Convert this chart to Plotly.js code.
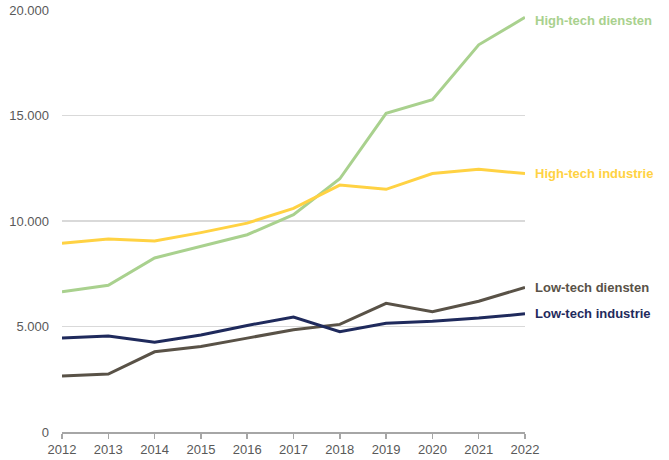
<!DOCTYPE html>
<html>
<head>
<meta charset="utf-8">
<script src="https://cdn.plot.ly/plotly-3.0.1.min.js"></script>
<style>html,body{margin:0;padding:0;background:#fff;}#chart{width:669px;height:460px;}</style>
</head>
<body>
<div id="chart"></div>
<script>
const years = [2012, 2013, 2014, 2015, 2016, 2017, 2018, 2019, 2020, 2021, 2022];
const highTechDiensten = [6650, 6950, 8250, 8800, 9350, 10300, 12000, 15100, 15750, 18350, 19650];
const highTechIndustrie = [8950, 9150, 9050, 9450, 9900, 10600, 11700, 11500, 12250, 12450, 12250];
const lowTechDiensten = [2650, 2750, 3800, 4050, 4450, 4850, 5100, 6100, 5700, 6200, 6850];
const lowTechIndustrie = [4450, 4550, 4250, 4600, 5050, 5450, 4750, 5150, 5250, 5400, 5600];
const seriesNames = ["High-tech diensten", "High-tech industrie", "Low-tech diensten", "Low-tech industrie"];
const seriesValues = [highTechDiensten, highTechIndustrie, lowTechDiensten, lowTechIndustrie];
const colors = ["#a9d18e", "#ffd243", "#595247", "#1f2a5c"];

const traces = seriesValues.map((v, i) => ({
  x: years, y: v, type: "scatter", mode: "lines", name: seriesNames[i],
  line: {color: colors[i], width: 3}, hoverinfo: "skip"
}));

const annotations = seriesValues.map((v, i) => ({
  x: years[years.length - 1], y: v[v.length - 1], xref: "x", yref: "y",
  text: seriesNames[i], showarrow: false, xanchor: "left", yanchor: "middle", xshift: 8,
  font: {family: "Liberation Sans, Arial, sans-serif", size: 13, color: colors[i], weight: "bold"}
}));
annotations[0].yshift = -3;

const layout = {
  width: 669, height: 460,
  margin: {l: 62, r: 144, t: 10, b: 28, pad: 0},
  paper_bgcolor: "#fff", plot_bgcolor: "#fff",
  showlegend: false,
  separators: ",.",
  font: {family: "Liberation Sans, Arial, sans-serif", size: 13, color: "#595959"},
  xaxis: {
    range: [2012, 2022], tickvals: years, ticktext: years.map(String),
    showgrid: false, zeroline: false, showline: true, linecolor: "#a6a6a6", linewidth: 1.5,
    ticks: "outside", ticklen: 5, tickcolor: "#a6a6a6", tickwidth: 1.5,
    tickfont: {size: 13, color: "#595959"}, fixedrange: true
  },
  yaxis: {
    range: [0, 20000], tickvals: [0, 5000, 10000, 15000, 20000], tickformat: ",d",
    showgrid: true, gridcolor: "#d9d9d9", gridwidth: 1.5, zeroline: false, showline: false,
    ticks: "", ticklabelstandoff: 12,
    tickfont: {size: 13, color: "#595959"}, fixedrange: true
  },
  annotations: annotations
};

Plotly.newPlot("chart", traces, layout, {displayModeBar: false, staticPlot: true});
</script>
</body>
</html>
